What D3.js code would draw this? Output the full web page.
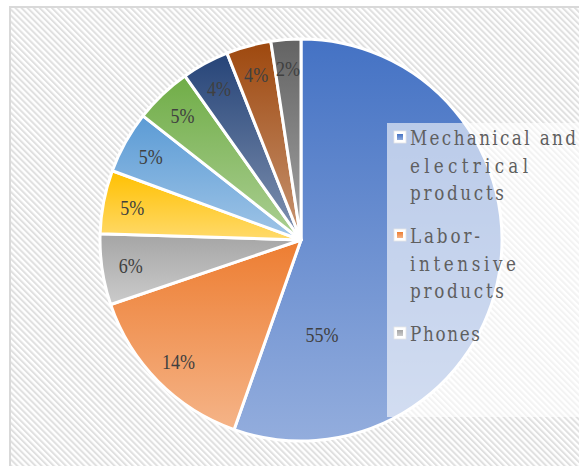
<!DOCTYPE html>
<html>
<head>
<meta charset="utf-8">
<script src="https://cdn.jsdelivr.net/npm/d3@7/dist/d3.min.js"></script>
<style>
  body { margin: 0; background: #fff; }
</style>
</head>
<body>
<script>
// data (shares in %, clockwise from 12 o'clock)
const categories = [
  "Mechanical and electrical products",
  "Labor-intensive products",
  "Phones",
  "Category 4",
  "Category 5",
  "Category 6",
  "Category 7",
  "Category 8",
  "Category 9"
];
const values = [55.4, 14.4, 5.7, 5.1, 5.0, 4.6, 3.8, 3.6, 2.4];
const palette = ["#4472C4", "#ED7D31", "#A5A5A5", "#FFC000", "#5B9BD5",
                 "#70AD47", "#264478", "#9E480E", "#636363"];
const legendShown = 3;   // legend is cut off after the third entry

let width = 579;
let height = 466;
let svg = d3.select("body").append("svg")
            .attr("width", width)
            .attr("height", height);

let cx = 301, cy = 240, radius = 201;
let total = d3.sum(values);

let defs = svg.append("defs");

// diagonal hatch of the chart area
let hatch = defs.append("pattern")
    .attr("id", "hatch")
    .attr("patternUnits", "userSpaceOnUse")
    .attr("width", 4.3)
    .attr("height", 4.3)
    .attr("patternTransform", "rotate(-45)");
hatch.append("rect").attr("width", 4.3).attr("height", 4.3).attr("fill", "#fff");
hatch.append("line")
     .attr("x1", 1).attr("y1", 0).attr("x2", 1).attr("y2", 4.3)
     .attr("stroke", "#e0e0e0")
     .attr("stroke-width", 2);

// top-to-bottom gradient per slice
palette.forEach(function (c, i) {
  let g = defs.append("linearGradient")
      .attr("id", "grad" + i)
      .attr("x1", 0).attr("y1", 0).attr("x2", 0).attr("y2", 1);
  g.append("stop").attr("offset", "0%").attr("stop-color", c);
  g.append("stop").attr("offset", "100%")
   .attr("stop-color", d3.interpolateRgb(c, "#fff")(0.42));
});

svg.append("rect")
   .attr("x", 10).attr("y", 7)
   .attr("width", 620).attr("height", 500)
   .attr("fill", "url(#hatch)")
   .attr("stroke", "#d9d9d9")
   .attr("stroke-width", 2);

let pie = d3.pie().sort(null).value(function (d) { return d; });
let arcs = pie(values);

let arc = d3.arc().innerRadius(0).outerRadius(radius);
let labelArc = d3.arc().innerRadius(172).outerRadius(172);
let bigLabelArc = d3.arc().innerRadius(97).outerRadius(97);
let bigLabelAngle = 167.5 * Math.PI / 180;

let g = svg.append("g").attr("transform", "translate(" + cx + "," + cy + ")");

g.selectAll("path.slice").data(arcs).enter().append("path")
 .attr("class", "slice")
 .attr("d", arc)
 .attr("fill", function (d, i) { return "url(#grad" + i + ")"; })
 .attr("stroke", "#fff")
 .attr("stroke-width", 3)
 .attr("stroke-linejoin", "round");

let fmt = d3.format(".0%");
g.selectAll("text.lbl").data(arcs).enter().append("text")
 .attr("class", "lbl")
 .attr("transform", function (d, i) {
   let p = i === 0
     ? bigLabelArc.centroid({ startAngle: bigLabelAngle, endAngle: bigLabelAngle })
     : labelArc.centroid(d);
   return "translate(" + p[0] + "," + p[1] + ") scale(0.82,1)";
 })
 .attr("text-anchor", "middle")
 .attr("dominant-baseline", "central")
 .attr("font-family", "'Liberation Serif', serif")
 .attr("font-size", 22)
 .attr("fill", "#404040")
 .text(function (d) { return fmt(d.value / total); });

// legend (overlaps the pie, half see-through)
function wrap(label, maxChars) {
  let words = label.replace(/-/g, "- ").split(" ").filter(function (w) { return w; });
  let lines = [], cur = "";
  words.forEach(function (w) {
    let sep = (cur === "" || cur.endsWith("-")) ? "" : " ";
    if (cur !== "" && (cur + sep + w).length > maxChars) {
      lines.push(cur);
      cur = w;
    } else {
      cur = cur + sep + w;
    }
  });
  if (cur) lines.push(cur);
  return lines;
}

let legend = svg.append("g");
legend.append("rect")
      .attr("x", 387).attr("y", 123)
      .attr("width", 220).attr("height", 294)
      .attr("fill", "#fff")
      .attr("fill-opacity", 0.6);

// condensed serif spread to a 12px-per-character line width
let cell = 12, sx = 0.8;
let lineH = 27.5, gap = 15.5;
let y = 145;
categories.slice(0, legendShown).forEach(function (name, i) {
  let lines = wrap(name, 14);
  legend.append("rect")
        .attr("x", 394).attr("y", y - 14)
        .attr("width", 12).attr("height", 12)
        .attr("fill", "#fff")
        .attr("stroke", "#e6e6e6")
        .attr("stroke-width", 0.8);
  legend.append("rect")
        .attr("x", 397).attr("y", y - 11)
        .attr("width", 6).attr("height", 6)
        .attr("fill", "url(#grad" + i + ")");
  lines.forEach(function (ln, j) {
    legend.append("text")
          .attr("transform", "translate(410," + (y + j * lineH) + ") scale(" + sx + ",1)")
          .attr("font-family", "'DejaVu Serif', serif")
          .attr("font-size", 21)
          .attr("textLength", (ln.length * cell - 2) / sx)
          .attr("lengthAdjust", "spacing")
          .attr("fill", "#5f5f5f")
          .text(ln);
  });
  y += lines.length * lineH + gap;
});
</script>
</body>
</html>
